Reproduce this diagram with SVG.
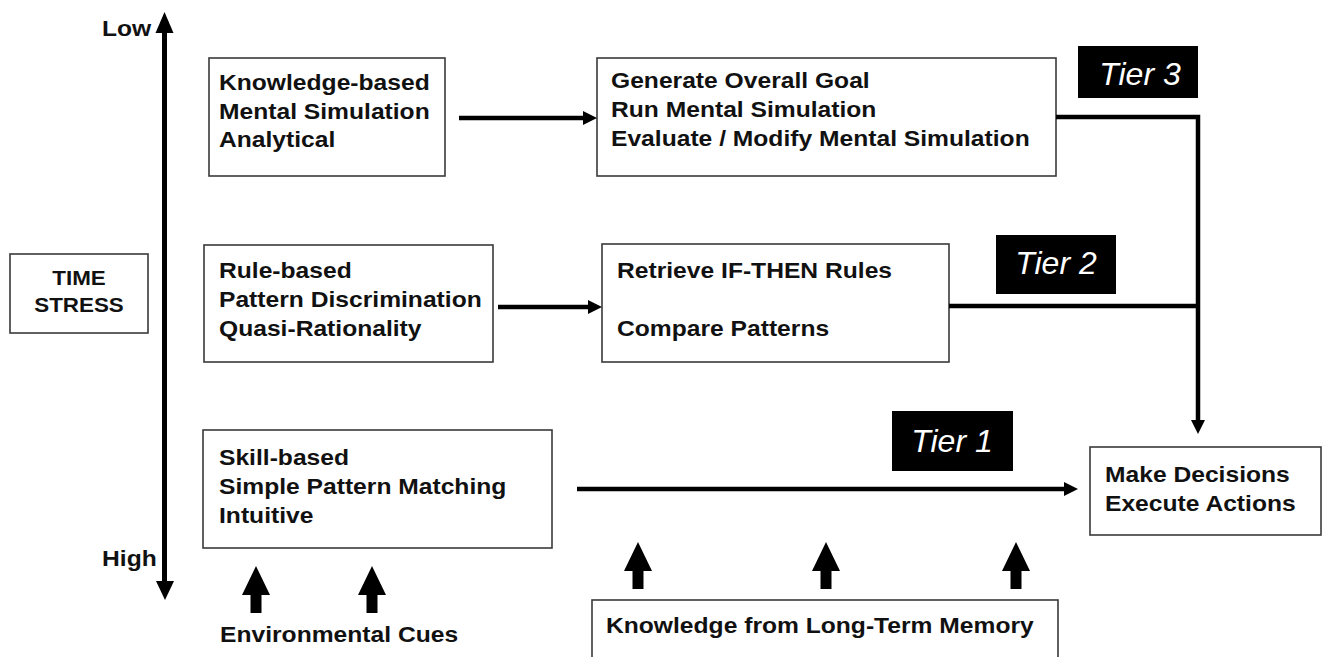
<svg xmlns="http://www.w3.org/2000/svg" width="1325" height="657" viewBox="0 0 1325 657">
<style>
.box{fill:#fff;stroke:#3a3a3a;stroke-width:1.6}
.t{font-family:"Liberation Sans",Arial,sans-serif;font-weight:bold;font-size:22px;fill:#111}
.c{text-anchor:middle}
.tier{fill:#000}
.tt{font-family:"Liberation Sans",Arial,sans-serif;font-style:italic;font-size:32px;fill:#fff;text-anchor:middle}
.conn{fill:none;stroke:#000;stroke-width:4.5}
.blk{fill:#000}
</style>
<defs>
<marker id="ah" markerUnits="userSpaceOnUse" markerWidth="16" markerHeight="16" refX="2" refY="7" orient="auto">
<path d="M0,0 L14,7 L0,14 Z" fill="#000"/>
</marker>
<path id="bigup" d="M0,0 L14,29 L5.5,29 L5.5,47 L-5.5,47 L-5.5,29 L-14,29 Z"/>
</defs>

<g id="axis">
<line x1="164.5" y1="30" x2="164.5" y2="583" stroke="#000" stroke-width="5"/>
<polygon class="blk" points="164.5,12 173.5,33 155.5,33"/>
<polygon class="blk" points="165,600 174,581 156,581"/>
<text class="t" transform="translate(102,36) scale(1.12,1)">Low</text>
<text class="t" transform="translate(102,566) scale(1.12,1)">High</text>
</g>

<g id="time-stress">
<rect class="box" x="10" y="254" width="138" height="79"/>
<text class="t c" style="font-size:20px" transform="translate(79,285) scale(1.12,1)"><tspan x="0" y="0">TIME</tspan><tspan x="0" y="27">STRESS</tspan></text>
</g>

<g id="knowledge-based">
<rect class="box" x="209" y="58" width="236" height="118"/>
<text class="t" transform="translate(219,90) scale(1.12,1)"><tspan x="0" y="0">Knowledge-based</tspan><tspan x="0" y="29">Mental Simulation</tspan><tspan x="0" y="57">Analytical</tspan></text>
</g>

<g id="generate">
<rect class="box" x="597" y="58" width="459" height="118"/>
<text class="t" transform="translate(611,88) scale(1.12,1)"><tspan x="0" y="0">Generate Overall Goal</tspan><tspan x="0" y="29">Run Mental Simulation</tspan><tspan x="0" y="58">Evaluate / Modify Mental Simulation</tspan></text>
</g>

<g id="tier3">
<rect class="tier" x="1078" y="46" width="120" height="52"/>
<text class="tt" x="1140" y="85">Tier 3</text>
</g>

<g id="rule-based">
<rect class="box" x="204" y="245" width="289" height="117"/>
<text class="t" transform="translate(219,278) scale(1.12,1)"><tspan x="0" y="0">Rule-based</tspan><tspan x="0" y="29">Pattern Discrimination</tspan><tspan x="0" y="58">Quasi-Rationality</tspan></text>
</g>

<g id="retrieve">
<rect class="box" x="602" y="244" width="347" height="118"/>
<text class="t" transform="translate(617,278) scale(1.12,1)"><tspan x="0" y="0">Retrieve IF-THEN Rules</tspan><tspan x="0" y="58">Compare Patterns</tspan></text>
</g>

<g id="tier2">
<rect class="tier" x="996" y="235" width="120" height="59"/>
<text class="tt" x="1056" y="274">Tier 2</text>
</g>

<g id="skill-based">
<rect class="box" x="203" y="430" width="349" height="118"/>
<text class="t" transform="translate(219,465) scale(1.12,1)"><tspan x="0" y="0">Skill-based</tspan><tspan x="0" y="29">Simple Pattern Matching</tspan><tspan x="0" y="58">Intuitive</tspan></text>
</g>

<g id="tier1">
<rect class="tier" x="892" y="411" width="121" height="60"/>
<text class="tt" x="952" y="452">Tier 1</text>
</g>

<g id="decisions">
<rect class="box" x="1090" y="447" width="231" height="88"/>
<text class="t" transform="translate(1105,482) scale(1.12,1)"><tspan x="0" y="0">Make Decisions</tspan><tspan x="0" y="29">Execute Actions</tspan></text>
</g>

<g id="env-cues">
<use href="#bigup" x="256" y="566"/>
<use href="#bigup" x="372" y="566"/>
<text class="t" transform="translate(220,642) scale(1.12,1)">Environmental Cues</text>
</g>

<g id="ltm">
<use href="#bigup" x="638" y="542"/>
<use href="#bigup" x="826" y="542"/>
<use href="#bigup" x="1016" y="542"/>
<rect class="box" x="592" y="600" width="466" height="80"/>
<text class="t" transform="translate(606,633) scale(1.12,1)">Knowledge from Long-Term Memory</text>
</g>

<g id="connectors">
<line class="conn" x1="459" y1="118" x2="585" y2="118" marker-end="url(#ah)"/>
<line class="conn" x1="498" y1="307" x2="590" y2="307" marker-end="url(#ah)"/>
<line class="conn" x1="577" y1="489" x2="1066" y2="489" marker-end="url(#ah)"/>
<polyline class="conn" points="1056,117 1198,117 1198,422" marker-end="url(#ah)"/>
<line class="conn" x1="949" y1="306" x2="1198" y2="306"/>
</g>
</svg>
